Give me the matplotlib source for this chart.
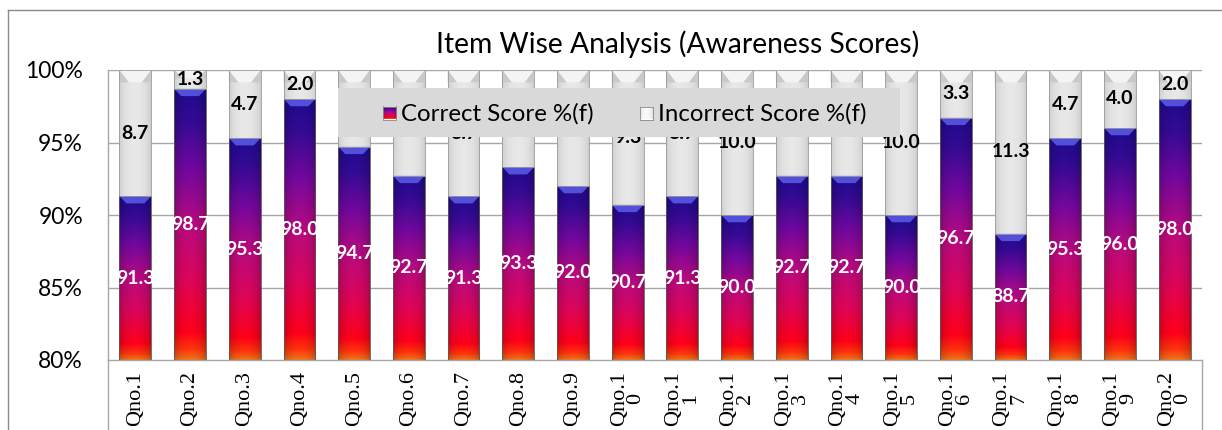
import numpy as np
import matplotlib
matplotlib.use("Agg")
import matplotlib.pyplot as plt
from matplotlib.patches import Polygon, Rectangle
from matplotlib.lines import Line2D

categories = ["Qno.1", "Qno.2", "Qno.3", "Qno.4", "Qno.5", "Qno.6", "Qno.7", "Qno.8", "Qno.9",
              "Qno.1\n0", "Qno.1\n1", "Qno.1\n2", "Qno.1\n3", "Qno.1\n4", "Qno.1\n5", "Qno.1\n6",
              "Qno.1\n7", "Qno.1\n8", "Qno.1\n9", "Qno.2\n0"]
correct = [91.3, 98.7, 95.3, 98.0, 94.7, 92.7, 91.3, 93.3, 92.0, 90.7,
           91.3, 90.0, 92.7, 92.7, 90.0, 96.7, 88.7, 95.3, 96.0, 98.0]
incorrect = [8.7, 1.3, 4.7, 2.0, 5.3, 7.3, 8.7, 6.7, 8.0, 9.3,
             8.7, 10.0, 7.3, 7.3, 10.0, 3.3, 11.3, 4.7, 4.0, 2.0]
yticks = [80, 85, 90, 95, 100]
ytick_labels = ["80%", "85%", "90%", "95%", "100%"]
title = "Item Wise Analysis (Awareness Scores)"
legend_labels = ["Correct Score %(f)", "Incorrect Score %(f)"]

FONT = "Lato"
W, H = 1222, 430
fig = plt.figure(figsize=(W / 100, H / 100), dpi=100)
ax = fig.add_axes([108 / W, 1 - 360 / H, (1202 - 108) / W, (360 - 70) / H])

# gradient definitions
stops_t = np.array([0.0, 0.04, 0.10, 0.30, 0.50, 0.70, 0.88, 1.0])
stops_c = np.array([
    [0.95, 0.45, 0.10],
    [1.00, 0.20, 0.05],
    [1.00, 0.00, 0.10],
    [0.86, 0.02, 0.36],
    [0.72, 0.04, 0.50],
    [0.45, 0.03, 0.62],
    [0.20, 0.04, 0.58],
    [0.12, 0.04, 0.55],
])


def correct_grad(n=200, m=40):
    t = np.linspace(0, 1, n)
    col = np.stack([np.interp(t, stops_t, stops_c[:, k]) for k in range(3)], axis=1)
    u = np.linspace(0, 1, m)
    f = 0.78 + 0.22 * np.sin(np.pi * u) ** 0.6
    img = col[:, None, :] * f[None, :, None]
    return np.clip(img, 0, 1)


def gray_grad(n=10, m=40):
    u = np.linspace(0, 1, m)
    f = 0.80 + 0.11 * np.sin(np.pi * u) ** 0.6
    img = np.ones((n, m, 3)) * f[None, :, None]
    return np.clip(img, 0, 1)


CG = correct_grad()
GG = gray_grad()

x = np.arange(len(categories))
bw = 0.58
for i, (c, inc) in enumerate(zip(correct, incorrect)):
    x0, x1 = x[i] - bw / 2, x[i] + bw / 2
    top = c + inc
    # correct bar
    ax.imshow(CG, extent=[x0, x1, 80, c], origin="lower", aspect="auto",
              interpolation="bilinear", zorder=2)
    ax.add_patch(Rectangle((x0, 80), bw, c - 80, fill=False, ec="#5a5a5a", lw=0.6, zorder=3))
    # bevel on correct bar
    bh = 0.5
    ax.add_patch(Polygon([[x0, c], [x1, c], [x1 - bw * 0.22, c - bh], [x0 + bw * 0.22, c - bh]],
                         closed=True, fc=(0.34, 0.34, 0.90), ec="none", alpha=0.9, zorder=3))
    # incorrect bar
    ax.imshow(GG, extent=[x0, x1, c, top], origin="lower", aspect="auto",
              interpolation="bilinear", zorder=2)
    gh = min(0.85, 0.45 * inc)
    ax.add_patch(Polygon([[x0, top], [x0 + bw * 0.3, top - gh], [x0, top - gh]],
                         closed=True, fc="#c9c9c9", ec="none", zorder=3))
    ax.add_patch(Polygon([[x1, top], [x1 - bw * 0.3, top - gh], [x1, top - gh]],
                         closed=True, fc="#c9c9c9", ec="none", zorder=3))
    ax.add_patch(Polygon([[x0, top], [x1, top], [x1 - bw * 0.3, top - gh], [x0 + bw * 0.3, top - gh]],
                         closed=True, fc="#f4f4f4", ec="none", zorder=3))
    ax.add_patch(Rectangle((x0, c), bw, inc, fill=False, ec="#9a9a9a", lw=0.6, zorder=3))
    # labels
    ax.text(x[i], (80 + c) / 2, f"{c:.1f}", ha="center", va="center", color="white",
            fontsize=14, fontweight="bold", family=FONT, zorder=4)
    ax.text(x[i], (c + top) / 2, f"{inc:.1f}", ha="center", va="center", color="black",
            fontsize=14, fontweight="bold", family=FONT, zorder=4)

ax.set_xlim(-0.5, len(categories) - 0.5)
ax.set_ylim(80, 100)
ax.set_yticks(yticks)
ax.set_yticklabels(ytick_labels, family=FONT, fontsize=16.5)
ax.set_xticks(x)
ax.set_xticklabels(categories, rotation=90, family="Liberation Serif", fontsize=16,
                   ha="center", va="top", multialignment="center", linespacing=0.85)
ax.tick_params(axis="both", length=0)
ax.tick_params(axis="y", pad=18)
ax.tick_params(axis="x", pad=8)
for yv in yticks[1:]:
    ax.axhline(yv, color="#a6a6a6", lw=1.0, zorder=1)
for s in ["top", "right"]:
    ax.spines[s].set_visible(False)
ax.spines["left"].set_color("#a6a6a6")
ax.spines["bottom"].set_color("#a6a6a6")
ax.spines["left"].set_linewidth(1.0)
ax.spines["bottom"].set_linewidth(1.0)
# frame extension below the plot (category area box)
ax.add_line(Line2D([0, 0], [0, -0.3], transform=ax.transAxes, color="#a6a6a6", lw=1.0, clip_on=False))
ax.add_line(Line2D([1, 1], [0, -0.3], transform=ax.transAxes, color="#a6a6a6", lw=1.0, clip_on=False))

# outer chart border
fig.add_artist(Line2D([8 / W, 8 / W], [0, 1 - 10 / H], color="#8a8a8a", lw=1.0))
fig.add_artist(Line2D([8 / W, 1], [1 - 10 / H, 1 - 10 / H], color="#8a8a8a", lw=1.0))

# title
fig.text(678 / W, 1 - 44 / H, title, ha="center", va="center", fontsize=20.3, family=FONT)

# legend (manual)
lx0, lx1, ly0, ly1 = 338, 900, 88, 137
fig.add_artist(Rectangle((lx0 / W, 1 - ly1 / H), (lx1 - lx0) / W, (ly1 - ly0) / H,
                         transform=fig.transFigure, fc="#d9d9d9", ec="none", zorder=10))
ms = 13
for mx, img, lab, tx in [(383, CG, legend_labels[0], 401), (640, GG, legend_labels[1], 658)]:
    max_ = fig.add_axes([mx / W, 1 - (113 + ms / 2) / H, ms / W, ms / H], zorder=11)
    mimg = img.copy()
    if img is GG:
        mimg = np.clip(mimg * 1.08, 0, 1)
    max_.imshow(mimg, origin="lower", aspect="auto", interpolation="bilinear")
    max_.set_xticks([]); max_.set_yticks([])
    for sp in max_.spines.values():
        sp.set_color("#8a8a8a"); sp.set_linewidth(0.6)
    fig.text(tx / W, 1 - 114 / H, lab, ha="left", va="center", fontsize=17.3, family=FONT, zorder=12)

fig.savefig("out.png", dpi=100)
